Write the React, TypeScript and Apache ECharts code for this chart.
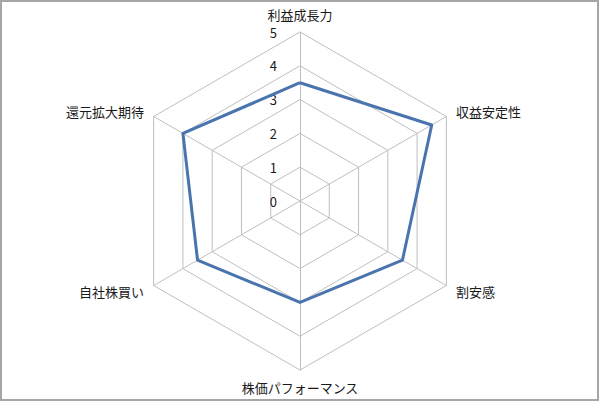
import React, { useEffect, useRef } from "react";
import * as echarts from "echarts";

const indicators = ["利益成長力", "収益安定性", "割安感", "株価パフォーマンス", "自社株買い", "還元拡大期待"];
const values = [3.5, 4.5, 3.5, 3, 3.5, 4];
const maxValue = 5;

// ECharts radar runs counter-clockwise; reorder so the picture runs clockwise.
const order = [0, ...indicators.map((_, i) => i).slice(1).reverse()];

export default function App() {
  const ref = useRef<HTMLDivElement>(null);
  useEffect(() => {
    if (!ref.current) return;
    const chart = echarts.init(ref.current, null, { renderer: "svg" });
    chart.setOption({
      animation: false,
      backgroundColor: "#ffffff",
      textStyle: { fontFamily: "'Noto Sans CJK JP', 'Noto Sans', sans-serif" },
      graphic: [
        {
          type: "rect",
          shape: { x: 1, y: 1, width: 597, height: 399 },
          style: { fill: "none", stroke: "#a6a6a6", lineWidth: 2 },
          silent: true,
        },
      ],
      radar: {
        center: [300, 201],
        radius: 169,
        startAngle: 90,
        splitNumber: 5,
        shape: "polygon",
        axisNameGap: 11,
        axisName: { color: "#1a1a1a", fontSize: 13, lineHeight: 13 },
        indicator: order.map((idx, i) => ({
          name: indicators[idx],
          min: 0,
          max: maxValue,
          ...(i === 0
            ? {
                axisLabel: {
                  show: true,
                  color: "#1a1a1a",
                  fontSize: 13,
                  lineHeight: 12,
                  margin: 23,
                },
              }
            : {}),
        })),
        axisLine: { lineStyle: { color: "#bfbfbf", width: 1 } },
        splitLine: { lineStyle: { color: "#bfbfbf", width: 1 } },
        splitArea: { show: false },
        axisTick: { show: false },
        axisLabel: { show: false },
      },
      series: [
        {
          type: "radar",
          symbol: "none",
          lineStyle: { color: "#4a74ad", width: 3 },
          data: [{ value: order.map((idx) => values[idx]) }],
        },
      ],
    });
    return () => chart.dispose();
  }, []);
  return (
    <div
      ref={ref}
      style={{ position: "absolute", left: 0, top: 0, width: 600, height: 402 }}
    />
  );
}
